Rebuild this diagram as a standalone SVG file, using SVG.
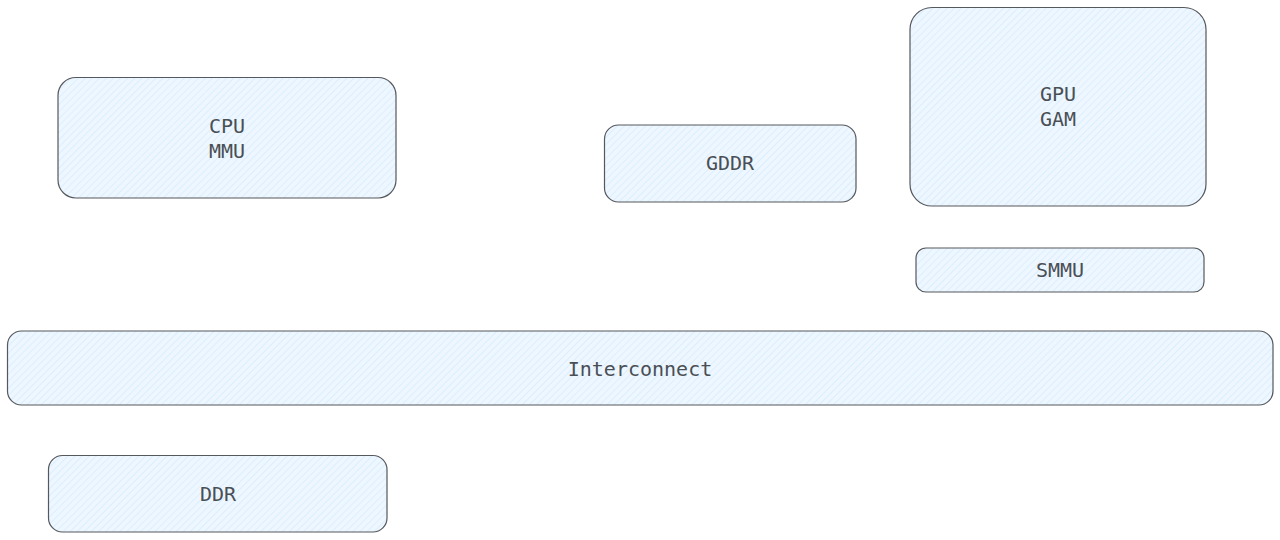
<svg xmlns="http://www.w3.org/2000/svg" width="1280" height="540" viewBox="0 0 1280 540">
<defs>
<pattern id="hatch" patternUnits="userSpaceOnUse" width="5" height="5" patternTransform="rotate(45)">
<rect width="5" height="5" fill="#eef7ff"/>
<line x1="0" y1="0" x2="0" y2="5" stroke="#c9e5fd" stroke-width="1"/>
</pattern>
</defs>
<style>
.box{fill:url(#hatch);stroke:#55585c;stroke-width:1.2}
.lbl{font-family:"DejaVu Sans Mono","Liberation Mono",monospace;font-size:20px;fill:#4a4f55;text-anchor:middle}
</style>
<rect width="1280" height="540" fill="#ffffff"/>
<g id="cpu">
<rect class="box" x="58" y="77.5" width="338" height="120.5" rx="18"/>
<text class="lbl" x="227" y="133">CPU</text>
<text class="lbl" x="227" y="158">MMU</text>
</g>
<g id="gddr">
<rect class="box" x="604.5" y="125" width="251.5" height="77" rx="14"/>
<text class="lbl" x="730" y="170">GDDR</text>
</g>
<g id="gpu">
<rect class="box" x="910" y="7.5" width="296" height="198.5" rx="22"/>
<text class="lbl" x="1058" y="101">GPU</text>
<text class="lbl" x="1058" y="126">GAM</text>
</g>
<g id="smmu">
<rect class="box" x="916" y="248" width="288" height="44" rx="10"/>
<text class="lbl" x="1060" y="277">SMMU</text>
</g>
<g id="interconnect">
<rect class="box" x="7.5" y="331" width="1265.5" height="74" rx="14"/>
<text class="lbl" x="640" y="376">Interconnect</text>
</g>
<g id="ddr">
<rect class="box" x="48.5" y="455.5" width="338.5" height="76.5" rx="14"/>
<text class="lbl" x="218" y="501">DDR</text>
</g>
<g id="connectors"></g>
</svg>
